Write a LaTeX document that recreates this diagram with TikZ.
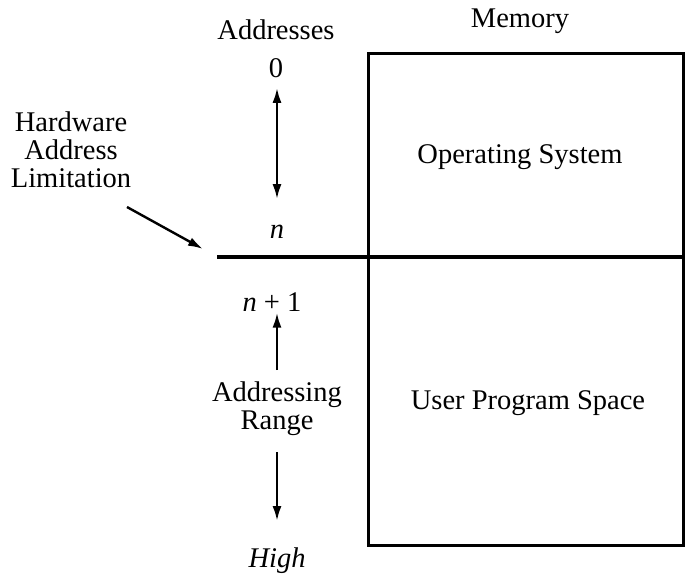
\documentclass[tikz,border=0pt]{standalone}
\usepackage{fontspec}
\setmainfont{Liberation Serif}
\usetikzlibrary{arrows.meta}
\begin{document}
\begin{tikzpicture}[x=1pt,y=-1pt,
  lbl/.style={inner sep=0pt,font=\fontsize{28.5}{30}\selectfont,align=center},
  arr/.style={line width=2.4pt,-{Latex[length=15pt,width=9pt]}},
  darr/.style={line width=2.4pt,{Latex[length=15pt,width=9pt]}-{Latex[length=15pt,width=9pt]}},
  memline/.style={line width=3pt}]
\useasboundingbox (0,0) rectangle (686,574);
% memory box
\draw[memline] (368,53) rectangle (683,545);
\coordinate (lineL) at (217,257);
\coordinate (lineR) at (683,257);
\draw[line width=4.6pt] (lineL) -- (lineR);
% labels
\node[lbl] (addr) at (276,30) {Addresses};
\node[lbl] (mem) at (520,21) {Memory};
\node[lbl] (zero) at (276,68) {0};
\node[lbl] (n) at (277,232) {\textit{n}};
\node[lbl] (os) at (520,157) {Operating System};
\node[lbl] (ups) at (528,403) {User Program Space};
\node[lbl] (hw) at (71,150) {Hardware\\[-2pt]Address\\[-2pt]Limitation};
\node[lbl] (np1) at (272,302) {\textit{n} + 1};
\node[lbl] (ar) at (277,409) {Addressing\\[-2pt]Range};
\node[lbl] (high) at (277,561) {\textit{High}};
% connectors
\draw[darr,shorten <=10pt,shorten >=26pt] (zero.south -| 277,0) -- (n.north);
\coordinate (hwtail) at (127,207);
\coordinate (hwtip) at (203,249);
\draw[arr] (hwtail) -- (hwtip);
\coordinate (uptail) at (277,370);
\draw[arr,shorten >=1pt] (uptail) -- (uptail |- np1.south);
\coordinate (dntail) at (277,452);
\draw[arr] (dntail) -- (277,521) coordinate (dntip);
\end{tikzpicture}
\end{document}
